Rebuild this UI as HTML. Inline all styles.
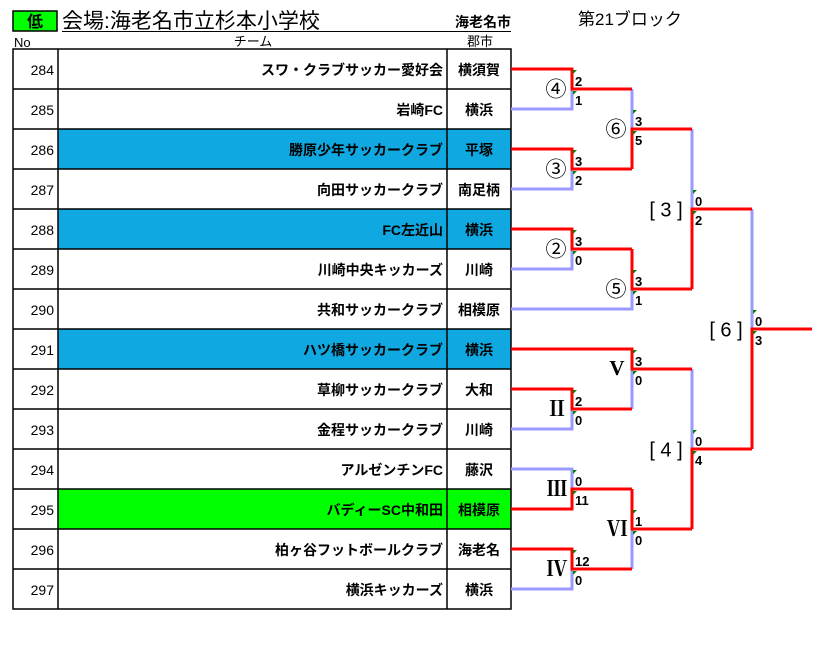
<!DOCTYPE html>
<html><head><meta charset="utf-8"><style>
html,body{margin:0;padding:0;background:#fff;}
svg{display:block;}
text{font-family:"Liberation Sans","Noto Sans CJK JP",sans-serif;}
.t{font-size:14px;font-weight:bold;text-anchor:end;}
.c{font-size:14px;font-weight:bold;text-anchor:middle;}
.n{font-size:14px;text-anchor:end;}
.s{font-size:13px;font-weight:bold;}
.l{font-size:21px;text-anchor:middle;dominant-baseline:middle;}
.b{font-size:20px;text-anchor:middle;dominant-baseline:middle;}
.r{font-family:"Liberation Serif","Noto Serif CJK SC",serif;font-size:21px;font-weight:bold;text-anchor:middle;dominant-baseline:middle;}
</style></head><body>
<svg width="821" height="648" xmlns="http://www.w3.org/2000/svg">
<rect x="13" y="11" width="44" height="20" fill="#00ff00" stroke="#000" stroke-width="1.5"/>
<text x="35" y="27" font-size="16" font-weight="bold" text-anchor="middle">低</text>
<text x="62" y="28" font-size="21">会場:海老名市立杉本小学校</text>
<text x="511" y="27" font-size="14" font-weight="bold" text-anchor="end">海老名市</text>
<text x="578" y="25" font-size="17">第21ブロック</text>
<line x1="62" y1="31.5" x2="511" y2="31.5" stroke="#000"/>
<text x="14" y="47" font-size="13">No</text>
<text x="253" y="46" font-size="13" text-anchor="middle">チーム</text>
<text x="480" y="46" font-size="13" text-anchor="middle">郡市</text>
<g>
<rect x="58" y="129" width="453" height="40" fill="#10a8e0"/>
<rect x="58" y="209" width="453" height="40" fill="#10a8e0"/>
<rect x="58" y="329" width="453" height="40" fill="#10a8e0"/>
<rect x="58" y="489" width="453" height="40" fill="#00ff00"/>
</g>
<g stroke="#000" stroke-width="1.5" fill="none">
<rect x="13" y="49" width="498" height="560"/>
<line x1="58" y1="49" x2="58" y2="609"/>
<line x1="447" y1="49" x2="447" y2="609"/>
<path d="M13 89H511M13 129H511M13 169H511M13 209H511M13 249H511M13 289H511M13 329H511M13 369H511M13 409H511M13 449H511M13 489H511M13 529H511M13 569H511"/>
</g>
<g>
<text class="n" x="54" y="75">284</text><text class="t" x="443" y="75">スワ・クラブサッカー愛好会</text><text class="c" x="479" y="75">横須賀</text>
<text class="n" x="54" y="115">285</text><text class="t" x="443" y="115">岩崎FC</text><text class="c" x="479" y="115">横浜</text>
<text class="n" x="54" y="155">286</text><text class="t" x="443" y="155">勝原少年サッカークラブ</text><text class="c" x="479" y="155">平塚</text>
<text class="n" x="54" y="195">287</text><text class="t" x="443" y="195">向田サッカークラブ</text><text class="c" x="479" y="195">南足柄</text>
<text class="n" x="54" y="235">288</text><text class="t" x="443" y="235">FC左近山</text><text class="c" x="479" y="235">横浜</text>
<text class="n" x="54" y="275">289</text><text class="t" x="443" y="275">川崎中央キッカーズ</text><text class="c" x="479" y="275">川崎</text>
<text class="n" x="54" y="315">290</text><text class="t" x="443" y="315">共和サッカークラブ</text><text class="c" x="479" y="315">相模原</text>
<text class="n" x="54" y="355">291</text><text class="t" x="443" y="355">ハツ橋サッカークラブ</text><text class="c" x="479" y="355">横浜</text>
<text class="n" x="54" y="395">292</text><text class="t" x="443" y="395">草柳サッカークラブ</text><text class="c" x="479" y="395">大和</text>
<text class="n" x="54" y="435">293</text><text class="t" x="443" y="435">金程サッカークラブ</text><text class="c" x="479" y="435">川崎</text>
<text class="n" x="54" y="475">294</text><text class="t" x="443" y="475">アルゼンチンFC</text><text class="c" x="479" y="475">藤沢</text>
<text class="n" x="54" y="515">295</text><text class="t" x="443" y="515">バディーSC中和田</text><text class="c" x="479" y="515">相模原</text>
<text class="n" x="54" y="555">296</text><text class="t" x="443" y="555">柏ヶ谷フットボールクラブ</text><text class="c" x="479" y="555">海老名</text>
<text class="n" x="54" y="595">297</text><text class="t" x="443" y="595">横浜キッカーズ</text><text class="c" x="479" y="595">横浜</text>
</g>
<g fill="none" stroke-width="3">
<path stroke="#9999ff" d="M511 109H572V89M511 189H572V169M511 269H572V249M632 89V129M511 309H632V289M692 129V209M632 409V369M511 429H572V409M511 469H572V489M511 589H572V569M632 569V529M692 369V449M752 209V329"/>
<path stroke="#ff0000" d="M511 69H572V89H632M511 149H572V169H632M511 229H572V249H632M632 169V129H692M632 249V289H692M692 289V209H752M511 349H632V369H692M511 389H572V409H632M511 509H572V489H632M511 549H572V569H632M632 489V529H692M692 529V449H752M752 449V329H812"/>
</g>
<g fill="#008000">
<path d="M573 70h4l-4 4z M573 91h4l-4 4z M573 150h4l-4 4z M573 171h4l-4 4z M573 230h4l-4 4z M573 251h4l-4 4z M633 110h4l-4 4z M633 131h4l-4 4z M633 270h4l-4 4z M633 291h4l-4 4z M693 190h4l-4 4z M693 211h4l-4 4z M633 350h4l-4 4z M633 371h4l-4 4z M573 390h4l-4 4z M573 411h4l-4 4z M573 470h4l-4 4z M573 491h4l-4 4z M573 550h4l-4 4z M573 571h4l-4 4z M633 510h4l-4 4z M633 531h4l-4 4z M693 430h4l-4 4z M693 451h4l-4 4z M753 310h4l-4 4z M753 331h4l-4 4z"/>
</g>
<g>
<text class="s" x="575" y="86">2</text><text class="s" x="575" y="105">1</text>
<text class="s" x="575" y="166">3</text><text class="s" x="575" y="185">2</text>
<text class="s" x="575" y="246">3</text><text class="s" x="575" y="265">0</text>
<text class="s" x="635" y="126">3</text><text class="s" x="635" y="145">5</text>
<text class="s" x="635" y="286">3</text><text class="s" x="635" y="305">1</text>
<text class="s" x="695" y="206">0</text><text class="s" x="695" y="225">2</text>
<text class="s" x="635" y="366">3</text><text class="s" x="635" y="385">0</text>
<text class="s" x="575" y="406">2</text><text class="s" x="575" y="425">0</text>
<text class="s" x="575" y="486">0</text><text class="s" x="575" y="505">11</text>
<text class="s" x="575" y="566">12</text><text class="s" x="575" y="585">0</text>
<text class="s" x="635" y="526">1</text><text class="s" x="635" y="545">0</text>
<text class="s" x="695" y="446">0</text><text class="s" x="695" y="465">4</text>
<text class="s" x="755" y="326">0</text><text class="s" x="755" y="345">3</text>
</g>
<g>
<text class="l" x="556" y="91">④</text>
<text class="l" x="556" y="171">③</text>
<text class="l" x="556" y="251">②</text>
<text class="l" x="616" y="131">⑥</text>
<text class="l" x="616" y="291">⑤</text>
<text class="b" x="666" y="211">[ 3 ]</text>
<text class="b" x="726" y="331">[ 6 ]</text>
<text class="b" x="666" y="451">[ 4 ]</text>
<text class="r" x="617" y="370">V</text>
<text class="r" x="557" y="411">Ⅱ</text>
<text class="r" x="557" y="491">Ⅲ</text>
<text class="r" x="557" y="571">Ⅳ</text>
<text class="r" x="617" y="531">Ⅵ</text>
</g>
</svg>
</body></html>
